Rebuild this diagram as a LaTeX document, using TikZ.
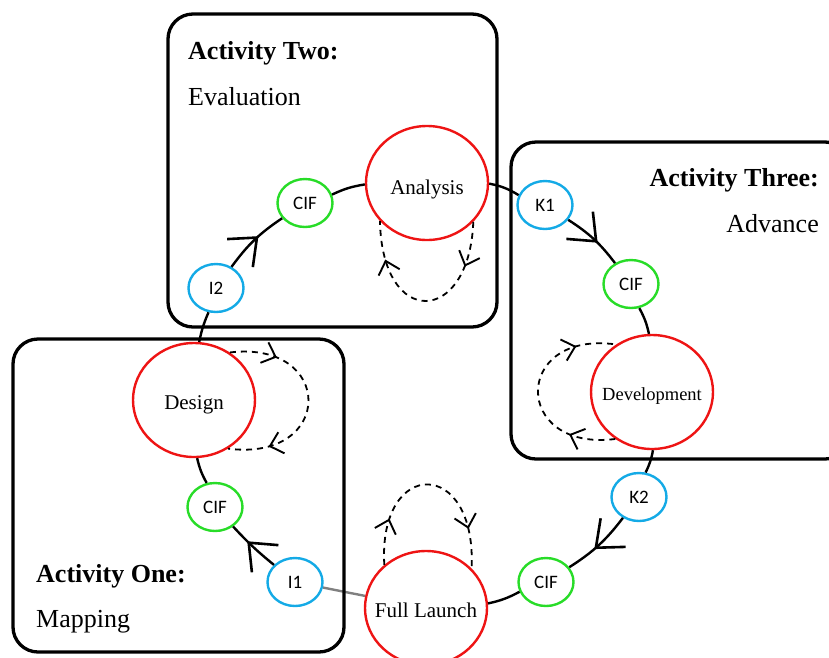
\documentclass[tikz,border=0pt]{standalone}
\usepackage{fontspec}
\setmainfont{Liberation Serif}
\newfontfamily\calibrifont{Carlito}
\usetikzlibrary{shapes.geometric,decorations.markings}
\pgfdeclarelayer{bg}
\pgfsetlayers{bg,main}
\definecolor{ringred}{RGB}{238,20,20}
\definecolor{ringgreen}{RGB}{40,220,40}
\definecolor{ringblue}{RGB}{20,170,230}
\newcommand{\stagetext}[2][-10pt]{\raisebox{#1}[0pt][0pt]{\makebox[0pt]{#2}}}
\tikzset{
  stage/.style={ellipse, draw=ringred, line width=2.4pt, fill=white,
    minimum width=122pt, minimum height=114pt, inner sep=0pt,
    font=\fontsize{21}{24}\selectfont},
  gate/.style={ellipse, line width=2.4pt, fill=white,
    minimum width=55pt, minimum height=48pt, inner sep=0pt,
    font=\calibrifont\fontsize{19}{22}\selectfont},
  cifnode/.style={gate, draw=ringgreen},
  keynode/.style={gate, draw=ringblue},
  actbox/.style={draw, line width=3.3pt, rounded corners=25pt},
  heading/.style={inner sep=0pt, font=\bfseries\fontsize{26}{30}\selectfont},
  subheading/.style={inner sep=0pt, font=\fontsize{26}{30}\selectfont},
  link/.style={line width=2.4pt},
  % open chevron placed on a path, pointing along it
  bigchevron/.style={decoration={markings, mark=at position #1 with
    {\draw[solid, line width=2.6pt, line join=miter] (-23pt,-19pt) -- (0pt,0pt) -- (-23pt,19pt);}}},
  smallchevron/.style={decoration={markings, mark=at position #1 with
    {\draw[solid, line width=1.9pt, line join=miter] (-12pt,-11pt) -- (0pt,0pt) -- (-12pt,11pt);}}},
  flow/.style={link, bigchevron=#1, postaction=decorate},
  flow/.default=0.55,
  iterate/.style={line width=1.8pt, dash pattern=on 6pt off 5pt,
    postaction={decorate, smallchevron=0.22},
    postaction={decorate, smallchevron=0.8}}
}
\begin{document}
\begin{tikzpicture}[x=1pt,y=-1pt]
\useasboundingbox (0,0) rectangle (829,657);
\clip (0,0) rectangle (829,657);

% activity frames
\draw[actbox] (168,14) rectangle (497,327);
\draw[actbox] (511,142) rectangle (850,459);
\draw[actbox] (13,339) rectangle (344,652);

\node[heading, anchor=base west] (h2) at (188,59) {Activity Two:};
\node[subheading, anchor=base west] (s2) at (188,105) {Evaluation};
\node[heading, anchor=base east] (h3) at (819,186) {Activity Three:};
\node[subheading, anchor=base east] (s3) at (819,232) {Advance};
\node[heading, anchor=base west] (h1) at (36,582) {Activity One:};
\node[subheading, anchor=base west] (s1) at (36,627) {Mapping};

% stages
\node[stage] (an) at (427,183) {\stagetext[-11pt]{Analysis}};
\node[stage] (dev) at (652,392) {\stagetext[-8pt]{\fontsize{18.5}{22}\selectfont Development}};
\node[stage] (fl) at (426,608) {\stagetext[-9pt]{Full Launch}};
\node[stage] (de) at (194,400) {\stagetext[-9pt]{Design}};

% checkpoints
\node[keynode] (k1) at (545,205) {K1};
\node[cifnode] (cr) at (631,284) {CIF};
\node[keynode] (k2) at (639,497) {K2};
\node[cifnode] (cb) at (546,582) {CIF};
\node[keynode] (i1) at (295,582) {I1};
\node[cifnode] (cl) at (215,507) {CIF};
\node[keynode] (i2) at (216,288) {I2};
\node[cifnode] (ct) at (305,203) {CIF};

% main cycle
\draw[link] (an) to[bend left=10] (k1);
\draw[flow] (k1) to[bend left=10] (cr);
\draw[link] (cr) to[bend left=8] (dev);
\draw[link] (dev) to[bend left=8] (k2);
\draw[flow] (k2) to[bend left=10] (cb);
\draw[link] (cb) to[bend left=8] (fl);
\begin{pgfonlayer}{bg}
\draw[line width=2.4pt, gray] (fl) -- (i1);
\end{pgfonlayer}
\draw[flow=0.6] (i1) to[bend left=4] (cl);
\draw[link] (cl) to[bend left=8] (de);
\draw[link] (de) to[bend left=6] (i2);
\draw[flow] (i2) to[bend left=10] (ct);
\draw[link] (ct) to[bend left=8] (an);

% iteration loops
\draw[iterate] (an.-40) .. controls +(-4,104) and +(2,108) .. (an.-141);
\draw[iterate] (de.53) .. controls (335,340) and (335,462) .. (de.-55);
\draw[iterate] (dev.-128) .. controls (512,452) and (512,330) .. (dev.127);
\draw[iterate] (fl.134) .. controls (378,457) and (477,457) .. (fl.41);
\end{tikzpicture}
\end{document}
